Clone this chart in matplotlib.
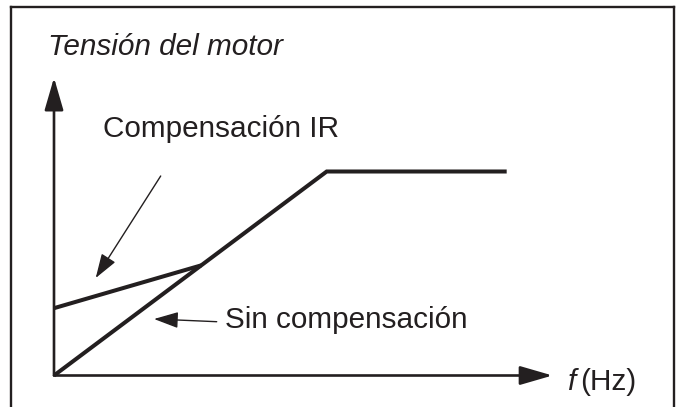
import matplotlib
matplotlib.use("Agg")
import matplotlib.pyplot as plt
from matplotlib.lines import Line2D

# ---- data (frequency in Hz-like units, voltage in % of nominal) ----
freq_no_comp = [0, 50, 83]
volt_no_comp = [0, 100, 100]
freq_ir = [0, 27]
volt_ir = [33, 54]

x_axis_end = 91.4
y_axis_end = 146

title_text = "Tensión del motor"
label_ir = "Compensación IR"
label_no = "Sin compensación"
xlabel_f = "f"
xlabel_unit = "(Hz)"

INK = "#231f20"
plt.rcParams['font.family'] = ['Liberation Sans', 'DejaVu Sans']

W, H, DPI = 676, 407, 100
fig = plt.figure(figsize=(W / DPI, H / DPI), dpi=DPI)
ax = fig.add_axes([0, 0, 1, 1])

# pixel mapping of the drawing
X0, Y0, SX, SY = 54.0, 375.5, 5.454, 2.04


def P(x, y):
    return ((x - X0) / SX, (Y0 - y) / SY)


ax.set_xlim(P(0, 0)[0], P(W, 0)[0])
ax.set_ylim(P(0, H)[1], P(0, 0)[1])
ax.axis("off")

# border frame (open at bottom)
frame_lw = 1.7
fig.add_artist(Line2D([11 / W, 11 / W], [0, 1 - 7 / H], color=INK, lw=frame_lw,
                      solid_capstyle="projecting"))
fig.add_artist(Line2D([11 / W, 674 / W], [1 - 7 / H, 1 - 7 / H], color=INK, lw=frame_lw,
                      solid_capstyle="projecting"))
fig.add_artist(Line2D([674 / W, 674 / W], [1 - 7 / H, 0], color=INK, lw=frame_lw,
                      solid_capstyle="projecting"))

# axes with arrow heads
axis_style = "-|>,head_length=20,head_width=5.8"
ax.annotate("", xy=(x_axis_end, 0), xytext=(0, 0),
            arrowprops=dict(arrowstyle=axis_style, color=INK, lw=1.9,
                            shrinkA=0, shrinkB=0, mutation_scale=1))
ax.annotate("", xy=(0, y_axis_end), xytext=(0, 0),
            arrowprops=dict(arrowstyle=axis_style, color=INK, lw=1.9,
                            shrinkA=0, shrinkB=0, mutation_scale=1))

# curves
ax.plot(freq_no_comp, volt_no_comp, color=INK, lw=2.9,
        solid_joinstyle="miter", solid_capstyle="butt")
ax.plot(freq_ir, volt_ir, color=INK, lw=2.9,
        solid_joinstyle="miter", solid_capstyle="butt")

# labels
fs = 21.4
tx, ty = P(48, 55)
ax.text(tx, ty, title_text, fontsize=fs, style="italic", color=INK,
        ha="left", va="baseline")
tx, ty = P(103, 137)
ax.text(tx, ty, label_ir, fontsize=fs, color=INK, ha="left", va="baseline")
tx, ty = P(225, 328)
ax.text(tx, ty, label_no, fontsize=fs, color=INK, ha="left", va="baseline")
tx, ty = P(568, 390)
ax.text(tx, ty, xlabel_f, fontsize=fs, style="italic", color=INK,
        ha="left", va="baseline")
tx, ty = P(580, 390)
ax.text(tx, ty, xlabel_unit, fontsize=fs, color=INK, ha="left", va="baseline")

# annotation arrows
ann_style = "-|>,head_length=15,head_width=5"
ax.annotate("", xy=P(95.7, 278), xytext=P(160.7, 176),
            arrowprops=dict(arrowstyle=ann_style, color=INK, lw=1.0,
                            shrinkA=0, shrinkB=0, mutation_scale=1))
ax.annotate("", xy=P(154, 319), xytext=P(216.7, 321.7),
            arrowprops=dict(arrowstyle=ann_style, color=INK, lw=1.0,
                            shrinkA=0, shrinkB=0, mutation_scale=1))

fig.savefig("out.png", dpi=DPI)
